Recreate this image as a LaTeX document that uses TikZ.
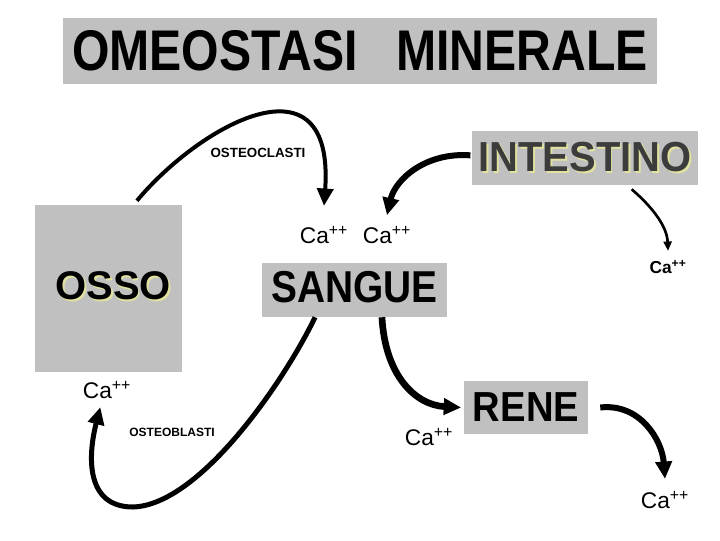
\documentclass[tikz,border=0pt]{standalone}
\usepackage{fontspec}
\setmainfont{Liberation Sans}
\usetikzlibrary{arrows.meta}

\definecolor{boxgray}{RGB}{192,192,192}
\definecolor{darktext}{RGB}{60,60,60}
\definecolor{shade}{RGB}{226,226,160}

% text with a pale yellow shadow
\newcommand{\shadowed}[2]{\rlap{\kern1.3pt\raisebox{-1.3pt}{\color{shade}#2}}{\color{#1}#2}}
\newcommand{\Ca}{Ca\textsuperscript{++}}

\tikzset{
  box/.style={fill=boxgray, inner sep=0pt, font=\bfseries},
  calabel/.style={inner sep=1pt, font=\fontsize{17}{17}\selectfont},
  smalllabel/.style={inner sep=1pt, font=\bfseries\fontsize{10}{10}\selectfont},
  flow/.style={-{Triangle[length=13pt,width=12pt]}, line width=4.5pt},
  thinflow/.style={-{Triangle[length=7pt,width=6pt]}, line width=2pt},
}

\begin{document}
\begin{tikzpicture}[x=0.75pt, y=-0.75pt]
  \useasboundingbox (0,0) rectangle (720,540);

  % boxes
  \node[box, minimum width=445.5pt, minimum height=49.5pt] (title) at (360,51)
    {\fontsize{43}{43}\selectfont\scalebox{0.84}[1]{OMEOSTASI\hspace{0.8em}MINERALE}};
  \node[box, minimum width=169.5pt, minimum height=40.5pt] (intestino) at (585,158)
    {\fontsize{31.5}{31.5}\selectfont\scalebox{0.95}[1]{\shadowed{darktext}{INTESTINO}}};
  \node[box, minimum width=110.25pt, minimum height=125.25pt] (osso) at (108.5,288.5)
    {\fontsize{30}{30}\selectfont\raisebox{4.5pt}{\kern7pt\shadowed{black}{OSSO}}};
  \node[box, minimum width=138.75pt, minimum height=40.5pt] (sangue) at (354.5,290)
    {\fontsize{33.5}{33.5}\selectfont\raisebox{4.5pt}{\scalebox{0.87}[1]{SANGUE}}};
  \node[box, minimum width=93pt, minimum height=39.75pt] (rene) at (526,407.5)
    {\fontsize{31.5}{31.5}\selectfont\scalebox{0.91}[1]{RENE}};

  % labels
  \node[smalllabel] (clasti) at (258,153) {OSTEOCLASTI};
  \node[smalllabel, font=\bfseries\fontsize{9}{9}\selectfont] (blasti) at (172,432) {OSTEOBLASTI};
  \node[calabel] (ca1) at (324,235) {\Ca};
  \node[calabel] (ca2) at (387,235) {\Ca};
  \node[smalllabel, font=\bfseries\fontsize{13}{13}\selectfont] (ca3) at (668,267) {\Ca};
  \node[calabel] (ca4) at (107,390) {\Ca};
  \node[calabel] (ca5) at (429,437) {\Ca};
  \node[calabel] (ca6) at (665,500) {\Ca};

  % arrows
  \draw[flow, line width=3pt] ([xshift=-34pt, yshift=3pt]osso.north east)
    .. controls (200,125) and (335,50) .. ([yshift=14pt]ca1.north);
  \draw[flow] ([xshift=-1pt, yshift=2pt]intestino.west)
    .. controls (425,152) and (395,180) .. ([yshift=7pt]ca2.north);
  \draw[thinflow] ([xshift=35pt, yshift=-3pt]intestino.south)
    .. controls (650,205) and (667,225) .. ([yshift=6pt]ca3.north);
  \draw[flow, line width=3.75pt] ([xshift=-29.6pt]sangue.south)
    .. controls (285,380) and (200,505) .. (133,507)
    .. controls (85,507) and (88,455) .. ([xshift=-5pt, yshift=-5pt]ca4.south);
  \draw[flow, line width=5pt] ([xshift=20.6pt]sangue.south)
    .. controls (385,375) and (415,405) .. ([xshift=-2pt]rene.west);
  \draw[flow] ([xshift=9pt]rene.east)
    .. controls (640,403) and (662,440) .. ([yshift=8pt]ca6.north);
\end{tikzpicture}
\end{document}
